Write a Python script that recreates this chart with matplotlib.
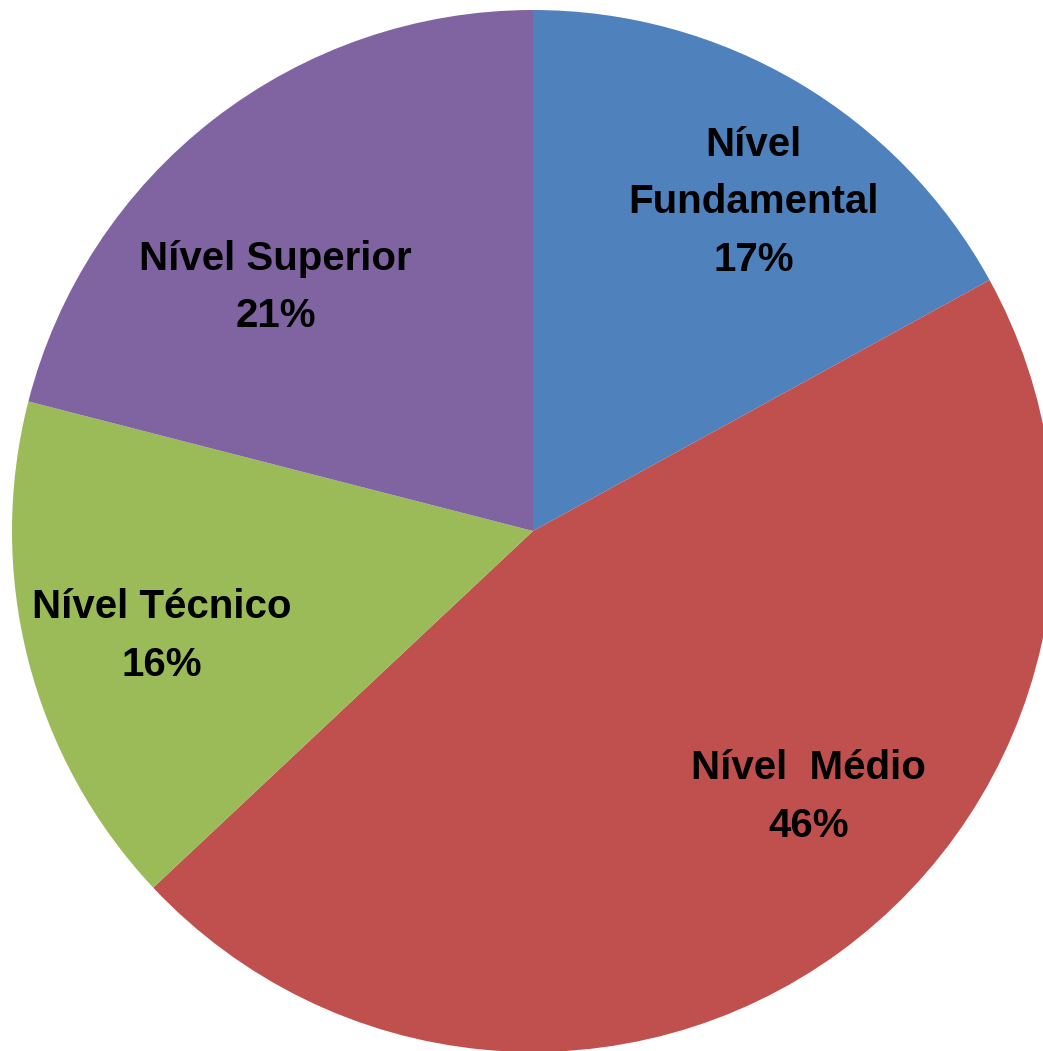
import matplotlib.pyplot as plt
import numpy as np

categories = ['Nível\nFundamental', 'Nível  Médio', 'Nível Técnico', 'Nível Superior']
shares = [17, 46, 16, 21]
colors = ['#4F81BD', '#C0504D', '#9BBB59', '#8064A2']

# label placement (angle in degrees, distance as fraction of radius), tuned by eye
label_pos = [(56.1, 0.76), (-44.0, 0.735), (-164.2, 0.74), (136.6, 0.68)]

W, H = 1043, 1051
fig = plt.figure(figsize=(W / 100, H / 100), dpi=100)
cx, cy, r = 533, 520, 521
ax = fig.add_axes([(cx - r) / W, (cy - r) / H, 2 * r / W, 2 * r / H])

ax.pie(shares, colors=colors, startangle=90, counterclock=False,
       radius=1, wedgeprops=dict(linewidth=0))
ax.set_xlim(-1, 1)
ax.set_ylim(-1, 1)
ax.set_aspect('auto')
ax.axis('off')

for name, val, (ang, dist) in zip(categories, shares, label_pos):
    a = np.deg2rad(ang)
    ax.text(dist * np.cos(a), dist * np.sin(a), f'{name}\n{val}%',
            ha='center', va='center', fontsize=29, fontweight='bold',
            family='Liberation Sans', linespacing=1.65, color='black')

fig.savefig('out.png', dpi=100)
